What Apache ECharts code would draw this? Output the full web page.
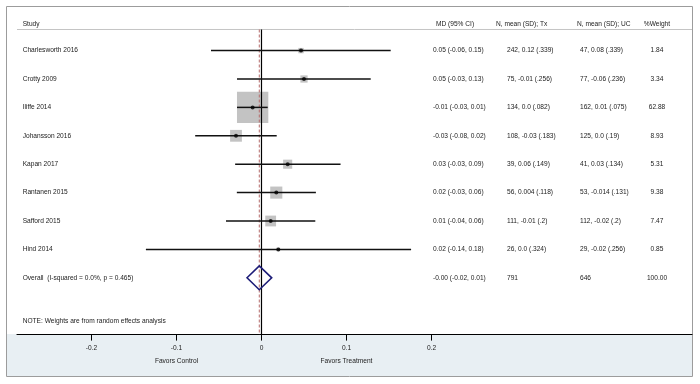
<!DOCTYPE html>
<html>
<head>
<meta charset="utf-8">
<script src="https://cdn.jsdelivr.net/npm/echarts@6/dist/echarts.min.js"></script>
<style>html,body{margin:0;padding:0;background:#fff}#c{width:700px;height:384px}</style>
</head>
<body>
<div id="c"></div>
<script>
// ---- data ----
const studies = ['Charlesworth 2016','Crotty 2009','Iliffe 2014','Johansson 2016','Kapan 2017','Rantanen 2015','Safford 2015','Hind 2014'];
const md     = [0.0465, 0.05, -0.0104, -0.030, 0.0308, 0.0174, 0.0108, 0.0198];
const ciLow  = [-0.0594, -0.0288, -0.0288, -0.078, -0.031, -0.029, -0.0418, -0.136];
const ciHigh = [0.152, 0.1285, 0.0073, 0.0179, 0.093, 0.064, 0.0633, 0.176];
const weights = [1.84, 3.34, 62.88, 8.93, 5.31, 9.38, 7.47, 0.85];
const txText = ['242, 0.12 (.339)','75, -0.01 (.256)','134, 0.0 (.082)','108, -0.03 (.183)','39, 0.06 (.149)','56, 0.004 (.118)','111, -0.01 (.2)','26, 0.0 (.324)'];
const ucText = ['47, 0.08 (.339)','77, -0.06 (.236)','162, 0.01 (.075)','125, 0.0 (.19)','41, 0.03 (.134)','53, -0.014 (.131)','112, -0.02 (.2)','29, -0.02 (.256)'];
const overallLabel = 'Overall  (I-squared = 0.0%, p = 0.465)';
const overallMD = -0.0026, overallLow = -0.017, overallHigh = 0.012;
const overallTx = '791', overallUC = '646', overallWeight = 100.00;
const headers = ['Study','MD (95% CI)','N, mean (SD); Tx','N, mean (SD); UC','%Weight'];
const noteText = 'NOTE: Weights are from random effects analysis';
const tickValues = [-0.2, -0.1, 0, 0.1, 0.2];
const favorLabels = ['Favors Control','Favors Treatment'];
const favorPos = [-0.1, 0.1];

// ---- layout (fractions of plot width on a hidden layout axis, and row units) ----
const colX = {study:0.0084, md:0.6163, tx:0.7259, uc:0.8341, w:0.9481};
const headX = [0.0084, 0.6207, 0.7096, 0.8296, 0.9481];
const headerRow = 0.06, headerLineRow = 0.257, noteRow = 10.52, favorRow = 11.92, yMax = 11;
const FONT = '6.6px "Liberation Sans", Arial, sans-serif';
const TXT = '#222';

const fmt = v => v.toFixed(2);
const mdStr = (m,l,h) => fmt(m) + ' (' + fmt(l) + ', ' + fmt(h) + ')';

const texts = [];
headers.forEach((h,i)=>texts.push({x:headX[i], row:headerRow, t:h, a: i===4?'center':'left'}));
studies.forEach((s,i)=>{
  const r = i+1;
  texts.push({x:colX.study,row:r,t:s,a:'left'});
  texts.push({x:colX.md,row:r,t:mdStr(md[i],ciLow[i],ciHigh[i]),a:'left'});
  texts.push({x:colX.tx,row:r,t:txText[i],a:'left'});
  texts.push({x:colX.uc,row:r,t:ucText[i],a:'left'});
  texts.push({x:colX.w,row:r,t:fmt(weights[i]),a:'center'});
});
const oRow = studies.length + 1;
texts.push({x:colX.study,row:oRow,t:overallLabel,a:'left'});
texts.push({x:colX.md,row:oRow,t:mdStr(overallMD,overallLow,overallHigh),a:'left'});
texts.push({x:colX.tx,row:oRow,t:overallTx,a:'left'});
texts.push({x:colX.uc,row:oRow,t:overallUC,a:'left'});
texts.push({x:colX.w,row:oRow,t:fmt(overallWeight),a:'center'});
texts.push({x:colX.study,row:noteRow,t:noteText,a:'left'});

const chart = echarts.init(document.getElementById('c'), null, {renderer:'canvas'});

const textRender = (arr) => (params, api) => {
  const it = arr[params.dataIndex];
  const p = api.coord([api.value(0), api.value(1)]);
  return {type:'text', x:p[0], y:p[1], style:{text:it.t, fill:TXT, font:FONT, align:it.a, verticalAlign:'middle'}};
};
const favorItems = favorLabels.map((t,i)=>({t:t, a:'center'}));

chart.setOption({
  animation:false,
  graphic:[
    {type:'rect', z:-10, shape:{x:7, y:334, width:685, height:42}, style:{fill:'#e8eff3'}},
    {type:'rect', z:-9, shape:{x:6.5, y:6.5, width:686, height:370}, style:{fill:'none', stroke:'#9c9c9c', lineWidth:1}}
  ],
  grid:{left:17, right:8, top:8, bottom:49.4},
  xAxis:[
    {type:'value', min:-0.28765, max:0.5065, position:'bottom',
     axisLine:{show:true, onZero:false, lineStyle:{color:'#000', width:1.2}},
     axisTick:{show:true, customValues:tickValues, length:6, lineStyle:{color:'#000', width:1}},
     axisLabel:{show:true, customValues:tickValues, color:TXT, fontSize:6.6, fontFamily:'Liberation Sans', margin:10},
     splitLine:{show:false}},
    {type:'value', min:0, max:1, show:false, axisLine:{onZero:false}}
  ],
  yAxis:[{type:'value', inverse:true, min:-0.5, max:yMax, show:false}],
  series:[
    // header rule
    {type:'custom', xAxisIndex:1, data:[[0,1,headerLineRow]], encode:{x:[0,1], y:2}, z:1,
     renderItem:(p,api)=>{const a=api.coord([api.value(0),api.value(2)]), b=api.coord([api.value(1),api.value(2)]);
       return {type:'line', shape:{x1:a[0],y1:a[1],x2:b[0],y2:b[1]}, style:{stroke:'#c4c4c4', lineWidth:1}};}},
    // weight boxes
    {type:'scatter', xAxisIndex:0, symbol:'rect', z:2,
     data: studies.map((s,i)=>[md[i], i+1, weights[i]]),
     symbolSize: v => 3.95*Math.sqrt(v[2]),
     itemStyle:{color:'#b4b4b4'}},
    // null line
    {type:'custom', xAxisIndex:0, data:[[0, headerLineRow, yMax]], encode:{x:0, y:[1,2]}, z:3,
     renderItem:(p,api)=>{const a=api.coord([api.value(0),api.value(1)]), b=api.coord([api.value(0),api.value(2)]);
       return {type:'line', shape:{x1:a[0],y1:a[1],x2:b[0],y2:b[1]}, style:{stroke:'#000', lineWidth:1.2}};}},
    // overall effect line
    {type:'custom', xAxisIndex:0, data:[[overallMD, headerLineRow, yMax]], encode:{x:0, y:[1,2]}, z:3,
     renderItem:(p,api)=>{const a=api.coord([api.value(0),api.value(1)]), b=api.coord([api.value(0),api.value(2)]);
       return {type:'line', shape:{x1:a[0],y1:a[1],x2:b[0],y2:b[1]}, style:{stroke:'#b56a6a', lineWidth:1, lineDash:[3,2]}};}},
    // CI lines
    {type:'custom', xAxisIndex:0, data: studies.map((s,i)=>[ciLow[i], ciHigh[i], i+1]), encode:{x:[0,1], y:2}, z:4,
     renderItem:(p,api)=>{const a=api.coord([api.value(0),api.value(2)]), b=api.coord([api.value(1),api.value(2)]);
       return {type:'line', shape:{x1:a[0],y1:a[1],x2:b[0],y2:b[1]}, style:{stroke:'#111', lineWidth:1.5}};}},
    // point estimates
    {type:'scatter', xAxisIndex:0, symbol:'circle', symbolSize:4, z:5,
     data: studies.map((s,i)=>[md[i], i+1]), itemStyle:{color:'#000'}},
    // overall diamond
    {type:'custom', xAxisIndex:0, data:[[overallLow, overallMD, overallHigh, oRow]], encode:{x:[0,1,2], y:3}, z:5,
     renderItem:(p,api)=>{const r=api.value(3), h=0.42;
       const pts=[api.coord([api.value(0),r]), api.coord([api.value(1),r-h]), api.coord([api.value(2),r]), api.coord([api.value(1),r+h])];
       return {type:'polygon', shape:{points:pts}, style:{fill:'none', stroke:'#1c1c78', lineWidth:1.6}};}},
    // table text
    {type:'custom', xAxisIndex:1, clip:false, z:6, data: texts.map(t=>[t.x, t.row]), encode:{x:0,y:1},
     renderItem: textRender(texts)},
    // favors labels
    {type:'custom', xAxisIndex:0, clip:false, z:6, data: favorPos.map(v=>[v, favorRow]), encode:{x:0,y:1},
     renderItem: textRender(favorItems)}
  ]
});
</script>
</body>
</html>
